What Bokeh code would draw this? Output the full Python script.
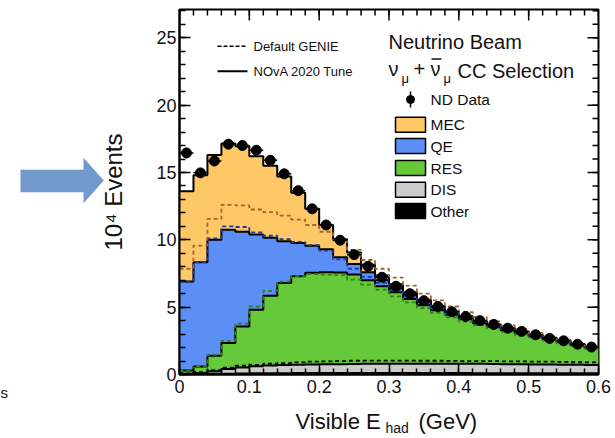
import numpy as np
from bokeh.plotting import figure
from bokeh.layouts import row, column
from bokeh.models import (Range1d, FixedTicker, CustomJSTickFormatter, Label)
from bokeh.embed import file_html
from bokeh.resources import INLINE

# ---------------- data (10^4 events per 0.02 GeV bin) ----------------
bin_edges = [0.00, 0.02, 0.04, 0.06, 0.08, 0.10, 0.12, 0.14, 0.16, 0.18,
             0.20, 0.22, 0.24, 0.26, 0.28, 0.30, 0.32, 0.34, 0.36, 0.38,
             0.40, 0.42, 0.44, 0.46, 0.48, 0.50, 0.52, 0.54, 0.56, 0.58, 0.60]

nd_data = [16.45, 14.97, 15.85, 17.1, 17.0, 16.65, 15.9, 14.9, 13.65, 12.3,
           11.1, 9.97, 8.9, 8.03, 7.22, 6.55, 6.0, 5.48, 5.05, 4.66,
           4.31, 4.0, 3.72, 3.44, 3.2, 2.95, 2.68, 2.5, 2.25, 2.04]

# NOvA 2020 tune (solid)
tune_other = [0.02, 0.03, 0.05, 0.06, 0.08, 0.09, 0.1, 0.1, 0.11, 0.11,
              0.11, 0.11, 0.11, 0.11, 0.11, 0.11, 0.11, 0.11, 0.11, 0.11,
              0.11, 0.1, 0.1, 0.1, 0.1, 0.1, 0.1, 0.1, 0.1, 0.1]
tune_dis = [0.03, 0.09, 0.2, 0.34, 0.44, 0.53, 0.56, 0.6, 0.61, 0.63,
            0.65, 0.66, 0.67, 0.68, 0.69, 0.69, 0.69, 0.69, 0.69, 0.69,
            0.68, 0.69, 0.68, 0.67, 0.66, 0.65, 0.64, 0.63, 0.62, 0.6]
tune_res = [0.25, 0.48, 1.15, 1.93, 3.05, 4.18, 5.19, 6.1, 6.58, 6.81,
            6.84, 6.81, 6.64, 6.21, 5.75, 5.3, 4.8, 4.35, 3.97, 3.63,
            3.31, 3.01, 2.76, 2.52, 2.3, 2.08, 1.87, 1.67, 1.46, 1.28]
tune_qe = [6.6, 7.73, 8.6, 8.42, 7.03, 5.6, 4.3, 3.1, 2.46, 2.0,
           1.7, 1.12, 0.78, 0.6, 0.45, 0.3, 0.3, 0.25, 0.21, 0.17,
           0.15, 0.14, 0.12, 0.11, 0.09, 0.08, 0.07, 0.06, 0.06, 0.06]
tune_mec = [6.7, 6.47, 6.3, 6.4, 6.35, 5.8, 5.35, 4.8, 3.74, 2.75,
            1.8, 1.35, 0.85, 0.55, 0.35, 0.3, 0.2, 0.15, 0.1, 0.08,
            0.07, 0.06, 0.06, 0.05, 0.05, 0.04, 0.04, 0.04, 0.03, 0.03]

# Default GENIE (dashed)
def_other = tune_other
def_dis = [0.06, 0.15, 0.28, 0.44, 0.57, 0.63, 0.7, 0.75, 0.79, 0.84,
           0.87, 0.89, 0.91, 0.92, 0.92, 0.92, 0.92, 0.91, 0.91, 0.9,
           0.89, 0.9, 0.89, 0.88, 0.87, 0.86, 0.85, 0.83, 0.81, 0.8]
def_res = [0.22, 0.44, 1.12, 2.0, 3.12, 4.33, 5.4, 6.05, 6.4, 6.5,
           6.44, 6.38, 6.03, 5.65, 5.27, 4.77, 4.32, 3.91, 3.55, 3.23,
           2.93, 2.65, 2.41, 2.18, 1.97, 1.76, 1.56, 1.38, 1.19, 1.01]
def_qe = [6.6, 7.73, 8.65, 8.5, 7.18, 5.5, 4.1, 3.15, 2.55, 2.15,
          1.78, 1.17, 0.8, 0.57, 0.5, 0.45, 0.45, 0.42, 0.38, 0.34,
          0.31, 0.29, 0.26, 0.24, 0.21, 0.19, 0.17, 0.15, 0.14, 0.13]
def_mec = [0.95, 1.22, 1.45, 1.6, 1.6, 1.7, 1.75, 1.75, 1.65, 1.5,
           1.4, 1.4, 1.4, 1.25, 1.05, 0.95, 0.8, 0.65, 0.55, 0.47,
           0.38, 0.33, 0.29, 0.25, 0.21, 0.17, 0.14, 0.11, 0.09, 0.07]

components = ["Other", "DIS", "RES", "QE", "MEC"]
fill_colors = ["#000000", "#CCCCCC", "#66C93A", "#5C8FF5", "#FFC866"]
dash_colors = ["#000000", "#000000", "#2F7F1F", "#1E3A9E", "#A0652E"]

x_major = [0.0, 0.1, 0.2, 0.3, 0.4, 0.5, 0.6]
x_tick_labels = ["0", "0.1", "0.2", "0.3", "0.4", "0.5", "0.6"]
x_minor = [round(0.02 * i, 2) for i in range(31)]
y_major = [0, 5, 10, 15, 20, 25]
y_minor = list(range(0, 28))

# ---------------- geometry (pixels of the 615x438 page) ----------------
FONT = "Liberation Sans"
TXT = "#111111"
SIDE_W = 140          # left strip with arrow and y title
TOTAL_W = 613
TOTAL_H = 436
TOP_H = 401           # height of the plot itself
TITLE_H = TOTAL_H - TOP_H
FL, FT, FW, FH = 179, 9, 419, 365   # frame position in page pixels
X0, X1, Y0, Y1 = 0.0, 0.6, 0.0, 27.1
BL, BR = FL - SIDE_W, TOTAL_W - FL - FW


def px_x(px):
    return X0 + (px - FL) / FW * (X1 - X0)


def px_y(py):
    return Y0 + (FT + FH - py) / FH * (Y1 - Y0)


# ---------------- main plot ----------------
p = figure(width=TOTAL_W - SIDE_W, height=TOP_H,
           x_range=Range1d(X0, X1), y_range=Range1d(Y0, Y1),
           min_border_left=BL, min_border_right=BR,
           min_border_top=FT, min_border_bottom=TOP_H - FT - FH,
           toolbar_location=None, output_backend="svg")
p.background_fill_color = "white"
p.border_fill_color = "white"
p.outline_line_color = "black"
p.outline_line_width = 2
p.xgrid.visible = False
p.ygrid.visible = False

xax = p.xaxis[0]
yax = p.yaxis[0]
xax.ticker = FixedTicker(ticks=x_major, minor_ticks=x_minor)
yax.ticker = FixedTicker(ticks=y_major, minor_ticks=y_minor)
xax.formatter = CustomJSTickFormatter(args=dict(labels=x_tick_labels),
                                      code="return labels[Math.round(tick*10)];")
for ax in (xax, yax):
    ax.major_tick_in = 11
    ax.major_tick_out = 0
    ax.minor_tick_in = 6
    ax.minor_tick_out = 0
    ax.major_tick_line_width = 1.5
    ax.minor_tick_line_width = 1.5
    ax.major_tick_line_color = "black"
    ax.minor_tick_line_color = "black"
    ax.axis_line_color = "black"
    ax.axis_line_width = 2
    ax.major_label_text_font = FONT
    ax.major_label_text_font_size = "18px"
    ax.major_label_text_color = TXT
xax.major_label_standoff = 5
yax.major_label_standoff = 3

# ticks on the top and right edges (ROOT style)
maj_dy = 11 / FH * (Y1 - Y0)
min_dy = 6 / FH * (Y1 - Y0)
maj_dx = 11 / FW * (X1 - X0)
min_dx = 6 / FW * (X1 - X0)
p.segment(x0=x_major, y0=[Y1] * len(x_major), x1=x_major,
          y1=[Y1 - maj_dy] * len(x_major), line_color="black", line_width=1.5)
p.segment(x0=x_minor, y0=[Y1] * len(x_minor), x1=x_minor,
          y1=[Y1 - min_dy] * len(x_minor), line_color="black", line_width=1.5)
p.segment(x0=[X1] * len(y_major), y0=y_major, x1=[X1 - maj_dx] * len(y_major),
          y1=y_major, line_color="black", line_width=1.5)
p.segment(x0=[X1] * len(y_minor), y0=y_minor, x1=[X1 - min_dx] * len(y_minor),
          y1=y_minor, line_color="black", line_width=1.5)

# ---------------- stacked histograms ----------------
edges = np.array(bin_edges)
lo, hi = edges[:-1], edges[1:]
centers = 0.5 * (lo + hi)
step_x = np.repeat(edges, 2)[1:-1]

tune_cum = np.cumsum(np.array([tune_other, tune_dis, tune_res, tune_qe, tune_mec]), axis=0)
def_cum = np.cumsum(np.array([def_other, def_dis, def_res, def_qe, def_mec]), axis=0)

for i in range(len(components)):
    top = tune_cum[i]
    bot = tune_cum[i - 1] if i > 0 else np.zeros_like(top)
    xs = np.concatenate([step_x, step_x[::-1]])
    ys = np.concatenate([np.repeat(top, 2), np.repeat(bot, 2)[::-1]])
    p.patch(xs, ys, fill_color=fill_colors[i], line_color=None)

for i in range(len(components)):
    p.line(step_x, np.repeat(tune_cum[i], 2), line_color="black", line_width=2)

for i in range(1, len(components)):
    p.line(step_x, np.repeat(def_cum[i], 2), line_color=dash_colors[i],
           line_width=1.8, line_dash="4 3")

# data
p.segment(x0=lo, y0=nd_data, x1=hi, y1=nd_data, line_color="black", line_width=1.5)
p.scatter(centers, nd_data, size=10, color="black")


# ---------------- legends inside the frame ----------------
def add_text(fig, txt, x, y, size, align="left", baseline="middle", angle=0.0):
    fig.add_layout(Label(x=x, y=y, text=txt, text_font=FONT, text_font_size=size,
                         text_color=TXT, text_align=align, text_baseline=baseline,
                         angle=angle))


def ptext(fig, txt, px, py, size, **kw):
    add_text(fig, txt, px_x(px), px_y(py), size, **kw)


p.segment(x0=[px_x(217)], y0=[px_y(45.7)], x1=[px_x(247)], y1=[px_y(45.7)],
          line_color="black", line_width=1.6, line_dash="4 2")
p.segment(x0=[px_x(217)], y0=[px_y(70.7)], x1=[px_x(247)], y1=[px_y(70.7)],
          line_color="black", line_width=2)
ptext(p, "Default GENIE", 253, 45.7, "13px")
ptext(p, "NOvA 2020 Tune", 253, 70.7, "13px")

ptext(p, "Neutrino Beam", 388, 41.7, "20px")
ptext(p, "\u03bd", 388, 68.5, "20px")
ptext(p, "\u03bc", 401, 78, "13px")
ptext(p, "+", 413, 68.5, "20px")
ptext(p, "\u03bd", 430, 68.5, "20px")
p.segment(x0=[px_x(431)], y0=[px_y(58.5)], x1=[px_x(441)], y1=[px_y(58.5)],
          line_color=TXT, line_width=1.5)
ptext(p, "\u03bc", 443, 78, "13px")
ptext(p, "CC Selection", 457, 70, "20px")

p.segment(x0=[px_x(410)], y0=[px_y(91)], x1=[px_x(410)], y1=[px_y(107)],
          line_color="black", line_width=1.5)
p.scatter([px_x(410)], [px_y(99)], size=8, color="black")
ptext(p, "ND Data", 430, 99, "15.5px")

legend_order = ["MEC", "QE", "RES", "DIS", "Other"]
legend_y = [124.2, 145.6, 167.5, 189.2, 210.5]
for name, yy in zip(legend_order, legend_y):
    idx = components.index(name)
    p.rect(x=[px_x(410)], y=[px_y(yy)], width=px_x(425) - px_x(395),
           height=px_y(0) - px_y(15), fill_color=fill_colors[idx],
           line_color="black", line_width=1.5)
    ptext(p, name, 430, yy, "15.5px")

# ---------------- bottom strip: x title with subscript ----------------
# same horizontal borders and x range as the plot, so x positions match
bottom = figure(width=TOTAL_W - SIDE_W, height=TITLE_H,
                x_range=Range1d(X0, X1), y_range=Range1d(0, TITLE_H),
                x_axis_type=None, y_axis_type=None,
                min_border_left=BL, min_border_right=BR,
                min_border_top=0, min_border_bottom=0,
                toolbar_location=None, output_backend="svg")
bottom.outline_line_color = None
bottom.xgrid.visible = False
bottom.ygrid.visible = False
add_text(bottom, "Visible E", px_x(295), TOTAL_H - 421, "22px", baseline="alphabetic")
add_text(bottom, "had", px_x(385), TOTAL_H - 427, "14px", baseline="alphabetic")
add_text(bottom, "(GeV)", px_x(418), TOTAL_H - 421, "22px", baseline="alphabetic")

# ---------------- left strip: arrow and y title (full height) ----------------
side = figure(width=SIDE_W, height=TOTAL_H, x_range=Range1d(0, SIDE_W),
              y_range=Range1d(0, TOTAL_H), x_axis_type=None, y_axis_type=None,
              min_border=0, toolbar_location=None, output_backend="svg")
side.outline_line_color = None
side.xgrid.visible = False
side.ygrid.visible = False
arrow_px = [(20, 169.3), (83, 169.3), (83, 157.3), (103.3, 180.0),
            (83, 202.7), (83, 191.7), (20, 191.7)]
side.patch([a for a, b in arrow_px], [TOTAL_H - b for a, b in arrow_px],
           fill_color="#7199CB", line_color=None)
add_text(side, "10\u2074 Events", 112.5, TOTAL_H - 191.5, "24px",
         align="center", baseline="alphabetic", angle=np.pi / 2)
add_text(side, "s", 0, TOTAL_H - 392, "15px", baseline="alphabetic")

layout = row(side, column(p, bottom, spacing=0), spacing=0)
open("out.html", "w").write(file_html(layout, INLINE))
